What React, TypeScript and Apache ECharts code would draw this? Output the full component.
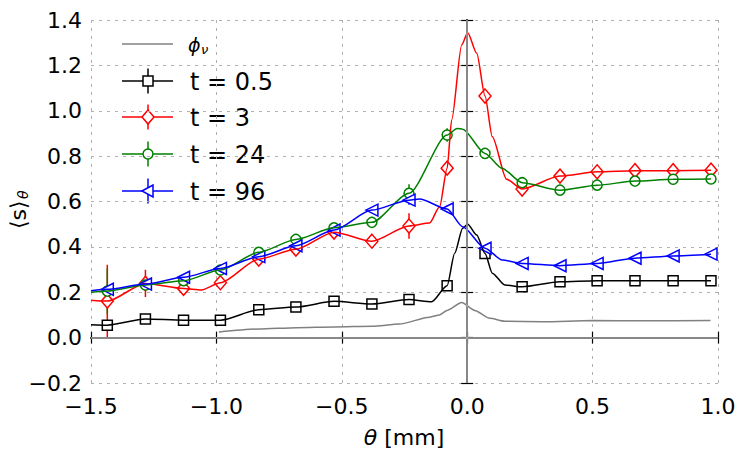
import React, { useEffect, useRef } from "react";
import * as echarts from "echarts";

// ---- data ----
const markerTheta = [-1.435, -1.283, -1.131, -0.984, -0.831, -0.683, -0.531, -0.38, -0.232, -0.08, 0.071, 0.219, 0.37, 0.518, 0.669, 0.821, 0.972];

const blackValues = [0.055, 0.082, 0.077, 0.077, 0.123, 0.135, 0.16, 0.148, 0.168, 0.229, 0.371, 0.224, 0.246, 0.251, 0.251, 0.251, 0.251];
const redValues = [0.161, 0.239, 0.217, 0.242, 0.346, 0.39, 0.465, 0.425, 0.492, 0.747, 1.065, 0.655, 0.712, 0.731, 0.736, 0.736, 0.738];
const greenValues = [0.205, 0.232, 0.251, 0.298, 0.376, 0.433, 0.484, 0.508, 0.636, 0.893, 0.812, 0.683, 0.65, 0.672, 0.69, 0.698, 0.699];
const blueValues = [0.213, 0.236, 0.266, 0.305, 0.357, 0.405, 0.474, 0.562, 0.606, 0.567, 0.394, 0.327, 0.317, 0.327, 0.35, 0.36, 0.368];

const blackErr = [0.01, 0.01, 0.01, 0.01, 0.01, 0.01, 0.01, 0.01, 0.015, 0.02, 0.015, 0.01, 0.01, 0.01, 0.01, 0.01, 0.01];
const redErr = [0.16, 0.06, 0.01, 0.015, 0.015, 0.015, 0.015, 0.02, 0.056, 0.02, 0.015, 0.01, 0.01, 0.01, 0.01, 0.01, 0.01];
const greenErr = [0.1, 0.01, 0.01, 0.01, 0.01, 0.01, 0.01, 0.01, 0.04, 0.03, 0.01, 0.01, 0.01, 0.01, 0.01, 0.01, 0.01];
const blueErr = [0.01, 0.01, 0.01, 0.01, 0.01, 0.01, 0.01, 0.01, 0.02, 0.015, 0.01, 0.01, 0.01, 0.01, 0.01, 0.01, 0.01];

const blackCurve = [[-1.5, 0.057], [-1.435, 0.055], [-1.283, 0.082], [-1.131, 0.077], [-0.984, 0.077], [-0.831, 0.123], [-0.683, 0.135], [-0.531, 0.16], [-0.38, 0.148], [-0.232, 0.168], [-0.142, 0.158], [-0.08, 0.229], [-0.05, 0.372], [-0.018, 0.482], [0.002, 0.5], [0.038, 0.452], [0.071, 0.371], [0.1, 0.284], [0.15, 0.232], [0.219, 0.224], [0.37, 0.246], [0.518, 0.251], [0.669, 0.251], [0.821, 0.251], [0.972, 0.251]];
const redCurve = [[-1.5, 0.165], [-1.435, 0.161], [-1.283, 0.239], [-1.131, 0.217], [-1.06, 0.21], [-0.984, 0.242], [-0.831, 0.346], [-0.683, 0.39], [-0.531, 0.465], [-0.38, 0.425], [-0.232, 0.492], [-0.15, 0.505], [-0.11, 0.577], [-0.08, 0.747], [-0.062, 0.959], [-0.022, 1.29], [0.002, 1.344], [0.038, 1.253], [0.071, 1.065], [0.1, 0.885], [0.157, 0.698], [0.219, 0.655], [0.37, 0.712], [0.518, 0.731], [0.669, 0.736], [0.821, 0.736], [0.972, 0.738]];
const greenCurve = [[-1.5, 0.2], [-1.435, 0.205], [-1.283, 0.232], [-1.131, 0.251], [-0.984, 0.298], [-0.831, 0.376], [-0.683, 0.433], [-0.531, 0.484], [-0.38, 0.508], [-0.232, 0.636], [-0.08, 0.893], [-0.04, 0.922], [-0.018, 0.919], [0.071, 0.812], [0.138, 0.747], [0.219, 0.683], [0.37, 0.65], [0.518, 0.672], [0.669, 0.69], [0.821, 0.698], [0.972, 0.699]];
const blueCurve = [[-1.5, 0.207], [-1.435, 0.213], [-1.283, 0.236], [-1.131, 0.266], [-0.984, 0.305], [-0.831, 0.357], [-0.683, 0.405], [-0.531, 0.474], [-0.38, 0.562], [-0.232, 0.606], [-0.19, 0.611], [-0.08, 0.567], [-0.018, 0.489], [0.071, 0.394], [0.14, 0.342], [0.219, 0.327], [0.37, 0.317], [0.518, 0.327], [0.669, 0.35], [0.821, 0.36], [0.972, 0.368]];
const phiCurve = [[-0.99, 0.025], [-0.83, 0.038], [-0.68, 0.044], [-0.53, 0.047], [-0.38, 0.05], [-0.27, 0.06], [-0.15, 0.09], [-0.11, 0.1], [-0.08, 0.12], [-0.022, 0.155], [0.03, 0.12], [0.09, 0.085], [0.15, 0.072], [0.3, 0.07], [0.5, 0.075], [0.7, 0.074], [0.97, 0.075]];

const legendLabels = ["t = 0.5", "t = 3", "t = 24", "t = 96"];
const seriesColors = ["#000000", "#ff0000", "#008000", "#0000ff"];

const FONT = "DejaVu Sans";

const fmt = (v: number) => {
  if (Math.abs(v) < 1e-9) return "0.0";
  return v.toFixed(1).replace("-", "\u2212");
};

function errSeries(values: number[], errs: number[], color: string) {
  return {
    type: "custom",
    silent: true,
    data: markerTheta.map((x, i) => [x, values[i] - errs[i], values[i] + errs[i]]),
    encode: { x: 0, y: [1, 2] },
    renderItem: (_p: any, api: any) => {
      const a = api.coord([api.value(0), api.value(1)]);
      const b = api.coord([api.value(0), api.value(2)]);
      return {
        type: "line",
        shape: { x1: a[0], y1: a[1], x2: b[0], y2: b[1] },
        style: { stroke: color, lineWidth: 1.5 },
      };
    },
  };
}

function lineSeries(curve: number[][], color: string, width = 1.5) {
  return {
    type: "line",
    data: curve,
    showSymbol: false,
    symbol: "none",
    smooth: 0.25,
    smoothMonotone: "x",
    lineStyle: { color, width },
    silent: true,
  };
}

function markerSeries(values: number[], color: string, symbol: string, size: any, rotate = 0) {
  return {
    type: "scatter",
    data: markerTheta.map((x, i) => [x, values[i]]),
    symbol,
    symbolSize: size,
    symbolRotate: rotate,
    itemStyle: { color: "#ffffff", borderColor: color, borderWidth: 1.5, opacity: 1 },
    silent: true,
  };
}

function legendGraphics() {
  const els: any[] = [];
  els.push({ type: "rect", shape: { x: 99, y: 27, width: 166, height: 177 }, style: { fill: "#ffffff" } });
  els.push({ type: "line", shape: { x1: 122, y1: 44, x2: 173, y2: 44 }, style: { stroke: "#808080", lineWidth: 1.5 } });
  els.push({ type: "text", x: 188, y: 45, style: { text: "\u03d5", font: `italic 19px '${FONT}'`, fill: "#000", textVerticalAlign: "middle" } });
  els.push({ type: "text", x: 201, y: 49, style: { text: "\u03bd", font: `italic 13px '${FONT}'`, fill: "#000", textVerticalAlign: "middle" } });
  const rows = [81, 117, 154, 191];
  rows.forEach((y, i) => {
    const c = seriesColors[i];
    els.push({ type: "line", shape: { x1: 122, y1: y, x2: 173, y2: y }, style: { stroke: c, lineWidth: 1.5 } });
    els.push({ type: "line", shape: { x1: 148, y1: y - 12.5, x2: 148, y2: y + 12.5 }, style: { stroke: c, lineWidth: 1.5 } });
    const st = { fill: "#ffffff", stroke: c, lineWidth: 1.5 };
    if (i === 0) els.push({ type: "rect", shape: { x: 143, y: y - 5, width: 10, height: 10 }, style: st });
    if (i === 1) els.push({ type: "polygon", shape: { points: [[148, y - 7], [154, y], [148, y + 7], [142, y]] }, style: st });
    if (i === 2) els.push({ type: "circle", shape: { cx: 148, cy: y, r: 5 }, style: st });
    if (i === 3) els.push({ type: "polygon", shape: { points: [[142, y], [153, y - 6], [153, y + 6]] }, style: st });
    els.push({ type: "text", x: 190, y: y + 1, style: { text: legendLabels[i], font: `24px '${FONT}'`, fill: "#000", textVerticalAlign: "middle" } });
  });
  return { type: "group", z: 50, children: els };
}

export default function App() {
  const ref = useRef<HTMLDivElement>(null);
  useEffect(() => {
    if (!ref.current) return;
    const chart = echarts.init(ref.current, null, { renderer: "svg" });
    const axisLine = { show: true, lineStyle: { color: "#000", width: 1.5 } };
    const tick = { show: true, inside: true, length: 6, lineStyle: { color: "#000", width: 1.2 } };
    const split = { show: true, lineStyle: { color: "#b0b0b0", width: 1, type: [3, 5] } };
    const option: any = {
      animation: false,
      backgroundColor: "#ffffff",
      grid: { left: 91, right: 32, top: 20, bottom: 76 },
      xAxis: [
        {
          type: "value", min: -1.5, max: 1.0, interval: 0.5, position: "bottom",
          axisLine, axisTick: tick, splitLine: split,
          axisLabel: { formatter: fmt, fontFamily: FONT, fontSize: 22, color: "#000", margin: 12 },
        },
        {
          type: "value", min: -1.5, max: 1.0, interval: 0.5, position: "top",
          axisLine, axisTick: tick, splitLine: { show: false }, axisLabel: { show: false },
        },
      ],
      yAxis: [
        {
          type: "value", min: -0.2, max: 1.4, interval: 0.2, position: "left",
          axisLine, axisTick: tick, splitLine: split,
          axisLabel: { formatter: fmt, fontFamily: FONT, fontSize: 22, color: "#000", margin: 9 },
        },
        {
          type: "value", min: -0.2, max: 1.4, interval: 0.2, position: "right",
          axisLine, axisTick: tick, splitLine: { show: false }, axisLabel: { show: false },
        },
      ],
      series: [
        {
          ...lineSeries(phiCurve, "#808080"),
          markLine: {
            silent: true, symbol: "none", label: { show: false },
            lineStyle: { color: "#b0b0b0", width: 1.5, type: "solid" },
            data: [{ xAxis: 0 }, { yAxis: 0 }],
          },
        },
        lineSeries(blackCurve, seriesColors[0]),
        errSeries(blackValues, blackErr, seriesColors[0]),
        markerSeries(blackValues, seriesColors[0], "rect", 10),
        lineSeries(redCurve, seriesColors[1]),
        errSeries(redValues, redErr, seriesColors[1]),
        markerSeries(redValues, seriesColors[1], "diamond", [12, 14]),
        lineSeries(greenCurve, seriesColors[2]),
        errSeries(greenValues, greenErr, seriesColors[2]),
        markerSeries(greenValues, seriesColors[2], "circle", 10),
        lineSeries(blueCurve, seriesColors[3]),
        errSeries(blueValues, blueErr, seriesColors[3]),
        markerSeries(blueValues, seriesColors[3], "triangle", 12, 90),
      ],
      graphic: [
        legendGraphics(),
        {
          type: "text", x: 404, y: 437,
          style: {
            text: "{i|\u03b8} [mm]", font: `22px '${FONT}'`, fill: "#000",
            textAlign: "center", textVerticalAlign: "middle",
            rich: { i: { fontStyle: "italic", fontSize: 22, fontFamily: FONT } },
          },
        },
        {
          type: "group", x: 18, y: 205, rotation: Math.PI / 2,
          children: [
            { type: "text", x: -24, y: 0, style: { text: "\u27e8s\u27e9", font: `22px '${FONT}'`, fill: "#000", textVerticalAlign: "middle" } },
            { type: "text", x: 6, y: 5, style: { text: "\u03b8", font: `italic 14px '${FONT}'`, fill: "#000", textVerticalAlign: "middle" } },
          ],
        },
      ],
    };
    chart.setOption(option);
    return () => chart.dispose();
  }, []);
  return <div ref={ref} style={{ position: "absolute", left: 0, top: 0, width: 750, height: 459 }} />;
}
